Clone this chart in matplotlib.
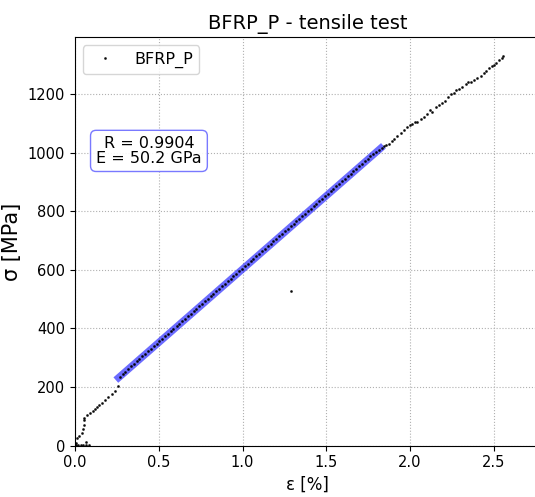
import matplotlib
matplotlib.use("Agg")
import matplotlib.pyplot as plt

# ---- data ----
eps_low = [0.000, 0.005, 0.020, 0.035, 0.050, 0.065, 0.085, 0.003, 0.010, 0.026,
           0.040, 0.048, 0.052, 0.053, 0.056, 0.066, 0.070, 0.090, 0.109, 0.122,
           0.133, 0.146, 0.159, 0.179, 0.199, 0.219, 0.239, 0.255]
sig_low = [0, 2, 1, 2, 1, 3, 2, 9, 25, 33,
           42, 56, 71, 86, 94, 12, 105, 113, 120, 126,
           131, 139, 147, 156, 167, 177, 187, 202]

eps_mid = [0.270, 0.285, 0.300, 0.318, 0.334, 0.350, 0.368, 0.385, 0.401, 0.418,
           0.436, 0.452, 0.470, 0.487, 0.503, 0.520, 0.538, 0.555, 0.572, 0.588,
           0.606, 0.622, 0.640, 0.657, 0.674, 0.690, 0.708, 0.725, 0.742, 0.758,
           0.776, 0.793, 0.810, 0.826, 0.844, 0.861, 0.878, 0.895, 0.912, 0.929,
           0.946, 0.963, 0.980, 0.997, 1.014, 1.031, 1.048, 1.065, 1.082, 1.099,
           1.116, 1.133, 1.150, 1.168, 1.185, 1.202, 1.219, 1.236, 1.253, 1.270,
           1.288, 1.305, 1.322, 1.339, 1.356, 1.373, 1.390, 1.407, 1.424, 1.441,
           1.458, 1.475, 1.492, 1.509, 1.526, 1.543, 1.560, 1.577, 1.594, 1.611,
           1.628, 1.645, 1.662, 1.679, 1.696, 1.713, 1.730, 1.747, 1.764, 1.781,
           1.798, 1.815, 1.832, 1.845]
sig_mid = [236, 246, 253, 263, 271, 279, 290, 296, 306, 313,
           323, 330, 341, 347, 357, 364, 375, 382, 391, 398,
           409, 416, 426, 433, 443, 450, 460, 467, 477, 484,
           494, 501, 511, 518, 528, 535, 545, 552, 562, 569,
           579, 586, 596, 603, 613, 620, 630, 637, 647, 654,
           664, 671, 681, 688, 698, 705, 715, 722, 732, 739,
           750, 757, 766, 773, 784, 791, 800, 808, 817, 824,
           834, 841, 851, 858, 868, 875, 885, 892, 902, 909,
           919, 926, 936, 943, 953, 960, 970, 977, 987, 994,
           1003, 1009, 1016, 1021]

eps_high = [1.859, 1.875, 1.891, 1.904, 1.924, 1.944, 1.964, 1.984, 1.998, 2.014,
            2.030, 2.044, 2.064, 2.084, 2.104, 2.117, 2.129, 2.153, 2.173, 2.189,
            2.209, 2.229, 2.243, 2.263, 2.277, 2.292, 2.312, 2.332, 2.348, 2.362,
            2.382, 2.402, 2.422, 2.442, 2.456, 2.472, 2.488, 2.502, 2.516, 2.531,
            2.547, 2.555]
sig_high = [1026, 1031, 1038, 1045, 1056, 1066, 1077, 1087, 1094, 1098,
            1103, 1106, 1114, 1123, 1132, 1144, 1140, 1155, 1163, 1168,
            1177, 1191, 1199, 1205, 1212, 1217, 1225, 1234, 1240, 1242,
            1248, 1255, 1263, 1271, 1280, 1288, 1294, 1299, 1307, 1316,
            1322, 1331]

eps_outlier = [1.29]
sig_outlier = [527]

fit_eps = [0.26, 1.825]
fit_sig = [232, 1015]

R_value = 0.9904
E_value = 50.2

x_ticks = [0.0, 0.5, 1.0, 1.5, 2.0, 2.5]
y_ticks = [0, 200, 400, 600, 800, 1000, 1200]

eps = eps_low + eps_mid + eps_outlier + eps_high
sig = sig_low + sig_mid + sig_outlier + sig_high

# ---- figure ----
fig = plt.figure(figsize=(5.35, 4.97), dpi=100)
ax = fig.add_axes([75 / 535, 1 - 445.7 / 497, (540 - 75) / 535, (445.7 - 37.4) / 497])

ax.plot(eps, sig, '.', color='black', markersize=2, alpha=0.8, label='BFRP_P', zorder=3)
ax.plot(fit_eps, fit_sig, '-', color='blue', lw=5.2, alpha=0.58, zorder=2)

ax.set_xlim(0, 2.776)
ax.set_ylim(0, 1393)
ax.set_xticks(x_ticks)
ax.set_yticks(y_ticks)
ax.tick_params(labelsize=10.5)
ax.grid(True, linestyle=':', color='#b0b0b0', linewidth=0.8)

ax.set_title('BFRP_P - tensile test', fontsize=14)
ax.set_xlabel('ε [%]', fontsize=12)
ax.set_ylabel('σ [MPa]', fontsize=15)

ax.legend(loc='upper left', fontsize=11.5, markerscale=1.0)

ax.text(0.159, 0.722, f'R = {R_value}\nE = {E_value} GPa', transform=ax.transAxes,
        ha='center', va='center', fontsize=11.5, linespacing=1.0,
        bbox=dict(boxstyle='round,pad=0.35', facecolor='white', edgecolor='#6a6aff', alpha=0.9))

fig.savefig('out.png', dpi=100)
